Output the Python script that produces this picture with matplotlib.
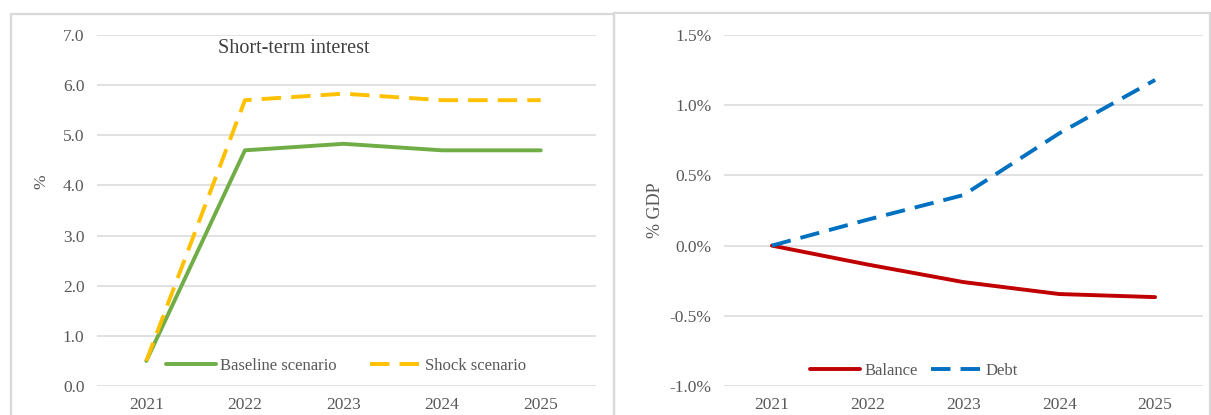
import matplotlib
matplotlib.use("Agg")
import matplotlib.pyplot as plt
from matplotlib.patches import Rectangle
from matplotlib.ticker import FuncFormatter

plt.rcParams['font.family'] = ['Liberation Serif', 'DejaVu Serif']

years = ['2021', '2022', '2023', '2024', '2025']

# left panel: short-term interest rate (%)
baseline = [0.5, 4.70, 4.83, 4.70, 4.70]
shock = [0.5, 5.70, 5.83, 5.70, 5.70]

# right panel: changes in % of GDP
balance = [0.0, -0.135, -0.26, -0.345, -0.367]
debt = [0.0, 0.185, 0.36, 0.80, 1.18]

W, H = 1211, 415
fig = plt.figure(figsize=(W / 100, H / 100), dpi=100)

def fx(px):
    return px / W

def fy(py):
    return 1 - py / H

grey_txt = '#595959'
grid_col = '#d9d9d9'
LW = 2.8

# panel borders
for x0, x1, y0 in [(11, 614, 14), (614, 1210, 13)]:
    fig.patches.append(Rectangle((fx(x0), fy(H + 5)), fx(x1) - fx(x0), fy(y0) - fy(H + 5),
                                 transform=fig.transFigure, fill=False,
                                 edgecolor=grid_col, lw=1.6))

def style(ax):
    for s in ax.spines.values():
        s.set_visible(False)
    ax.tick_params(length=0, colors=grey_txt, labelsize=12.5)
    ax.tick_params(axis='y', pad=9)
    ax.tick_params(axis='x', pad=8)
    ax.grid(axis='y', color=grid_col, lw=1.1)
    ax.set_axisbelow(True)

x = list(range(len(years)))

# ---- left chart
ax1 = fig.add_axes([fx(97), fy(386), fx(596) - fx(97), fy(35) - fy(386)])
style(ax1)
ax1.plot(x, baseline, color='#70AD47', lw=LW, label='Baseline scenario', solid_capstyle='round')
ax1.plot(x, shock, color='#FFC000', lw=LW, dashes=(5, 2.6), label='Shock scenario')
ax1.set_ylim(0, 7)
ax1.set_yticks(range(0, 8))
ax1.yaxis.set_major_formatter(FuncFormatter(lambda v, p: f'{v:.1f}'))
ax1.set_xlim(-0.5, 4.56)
ax1.set_xticks(x)
ax1.set_xticklabels(years)
ax1.text(0.395, 0.962, 'Short-term interest', transform=ax1.transAxes,
         ha='center', va='center', fontsize=14.5, color='#404040')
fig.text(fx(41), fy(182), '%', rotation=90, ha='center', va='center',
         fontsize=12.5, color=grey_txt)
ax1.legend(loc='center', bbox_to_anchor=(fx(346), fy(366)), bbox_transform=fig.transFigure,
           ncol=2, frameon=True, facecolor='white', edgecolor='none', framealpha=1,
           fontsize=12, labelcolor=grey_txt, handlelength=3.0, handletextpad=0.25,
           columnspacing=2.0, borderpad=0.1)

# ---- right chart
ax2 = fig.add_axes([fx(724), fy(386), fx(1203) - fx(724), fy(35) - fy(386)])
style(ax2)
ax2.plot(x, balance, color='#C00000', lw=LW, label='Balance', solid_capstyle='round')
ax2.plot(x, debt, color='#0070C0', lw=LW, dashes=(5, 2.6), label='Debt')
ax2.set_ylim(-1.0, 1.5)
ax2.set_yticks([-1.0, -0.5, 0.0, 0.5, 1.0, 1.5])
ax2.yaxis.set_major_formatter(FuncFormatter(lambda v, p: f'{v:.1f}%'))
ax2.set_xlim(-0.5, 4.5)
ax2.set_xticks(x)
ax2.set_xticklabels(years)
fig.text(fx(655), fy(210), '% GDP', rotation=90, ha='center', va='center',
         fontsize=13, color=grey_txt)
ax2.legend(loc='center', bbox_to_anchor=(fx(914), fy(371)), bbox_transform=fig.transFigure,
           ncol=2, frameon=False, fontsize=12, labelcolor=grey_txt,
           handlelength=3.0, handletextpad=0.25, columnspacing=0.8, borderpad=0.1)

fig.savefig('out.png', dpi=100)
